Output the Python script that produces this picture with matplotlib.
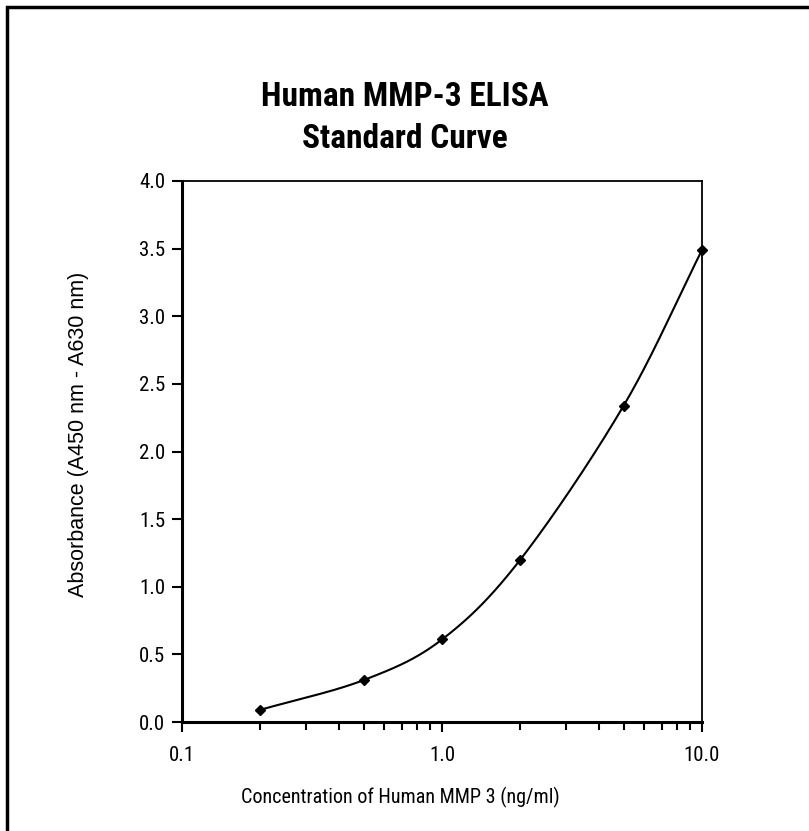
import numpy as np
import matplotlib
matplotlib.use("Agg")
import matplotlib.pyplot as plt
from matplotlib.patches import Rectangle
from matplotlib import font_manager

# Data
concentration = [0.2, 0.5, 1.0, 2.0, 5.0, 10.0]
absorbance = [0.09, 0.31, 0.61, 1.20, 2.34, 3.49]
x_ticks = [0.1, 1.0, 10.0]
x_tick_labels = ["0.1", "1.0", "10.0"]
y_ticks = [0.0, 0.5, 1.0, 1.5, 2.0, 2.5, 3.0, 3.5, 4.0]
y_tick_labels = ["0.0", "0.5", "1.0", "1.5", "2.0", "2.5", "3.0", "3.5", "4.0"]
title = "Human MMP-3 ELISA\nStandard Curve"
xlabel = "Concentration of Human MMP 3 (ng/ml)"
ylabel = "Absorbance (A450 nm - A630 nm)"

names = {f.name for f in font_manager.fontManager.ttflist}
narrow = [f for f in ["Roboto Condensed", "Archivo Narrow", "PT Sans Narrow", "Liberation Sans", "DejaVu Sans"] if f in names]
regular = [f for f in ["Liberation Sans", "DejaVu Sans"] if f in names]
plt.rcParams['font.family'] = narrow

W, H = 809, 831
fig = plt.figure(figsize=(W / 100, H / 100), dpi=100)
L, R, T, B = 182, 702, 181, 722
ax = fig.add_axes([L / W, 1 - B / H, (R - L) / W, (B - T) / H])

ax.set_xscale('log')
ax.set_xlim(0.1, 10)
ax.set_ylim(0, 4)

# smoothed line (Catmull-Rom in axes space, like spreadsheet smoothing)
lx = np.log10(concentration)
px = (lx - (-1)) / 2.0 * (R - L)
py = np.array(absorbance) / 4.0 * (B - T)
P = np.column_stack([px, py])
Pext = np.vstack([2 * P[0] - P[1], P, 2 * P[-1] - P[-2]])
curve = []
t = np.linspace(0, 1, 40)
for i in range(1, len(Pext) - 2):
    p0, p1, p2, p3 = Pext[i - 1], Pext[i], Pext[i + 1], Pext[i + 2]
    tt = t[:, None]
    seg = 0.5 * ((2 * p1) + (-p0 + p2) * tt + (2 * p0 - 5 * p1 + 4 * p2 - p3) * tt ** 2
                 + (-p0 + 3 * p1 - 3 * p2 + p3) * tt ** 3)
    curve.append(seg)
curve = np.vstack(curve)
cx = 10 ** (curve[:, 0] / (R - L) * 2.0 - 1)
cy = curve[:, 1] / (B - T) * 4.0
ax.plot(cx, cy, color='black', lw=1.5, zorder=2, clip_on=False)
ax.plot(concentration, absorbance, linestyle='none', marker='D', ms=5.5,
        color='black', zorder=3, clip_on=False)

ax.set_xticks(x_ticks)
ax.set_xticklabels(x_tick_labels)
ax.set_yticks(y_ticks)
ax.set_yticklabels(y_tick_labels)
ax.tick_params(axis='both', which='major', direction='out', length=7, width=1.5,
               labelsize=15, colors='black')
ax.tick_params(axis='x', which='minor', direction='out', length=6, width=1.5)
ax.tick_params(axis='x', which='major', pad=10)
ax.tick_params(axis='y', which='major', pad=5)
ax.minorticks_on()
ax.yaxis.set_minor_locator(matplotlib.ticker.NullLocator())
ax.xaxis.set_minor_formatter(matplotlib.ticker.NullFormatter())
for s in ax.spines.values():
    s.set_linewidth(2.2)
    s.set_color('black')
ax.spines['top'].set_linewidth(1.3)
ax.spines['right'].set_linewidth(1.3)

ax.set_xlabel(xlabel, fontsize=14.5, va='center')
ax.set_ylabel(ylabel, fontsize=15.5, family=regular, va='center')
ax.xaxis.set_label_coords(400 / W, 1 - 797 / H, transform=fig.transFigure)
ax.yaxis.set_label_coords(79 / W, 1 - 434 / H, transform=fig.transFigure)

fig.text(405 / W, 1 - 118 / H, title, ha='center', va='center',
         fontsize=24, fontweight='bold', linespacing=1.4)

fig.patches.append(Rectangle((7 / W, -0.1), 1.2, 1 - 7 / H + 0.1, transform=fig.transFigure,
                             fill=False, edgecolor='black', lw=2.5))
fig.savefig("out.png", dpi=100)
